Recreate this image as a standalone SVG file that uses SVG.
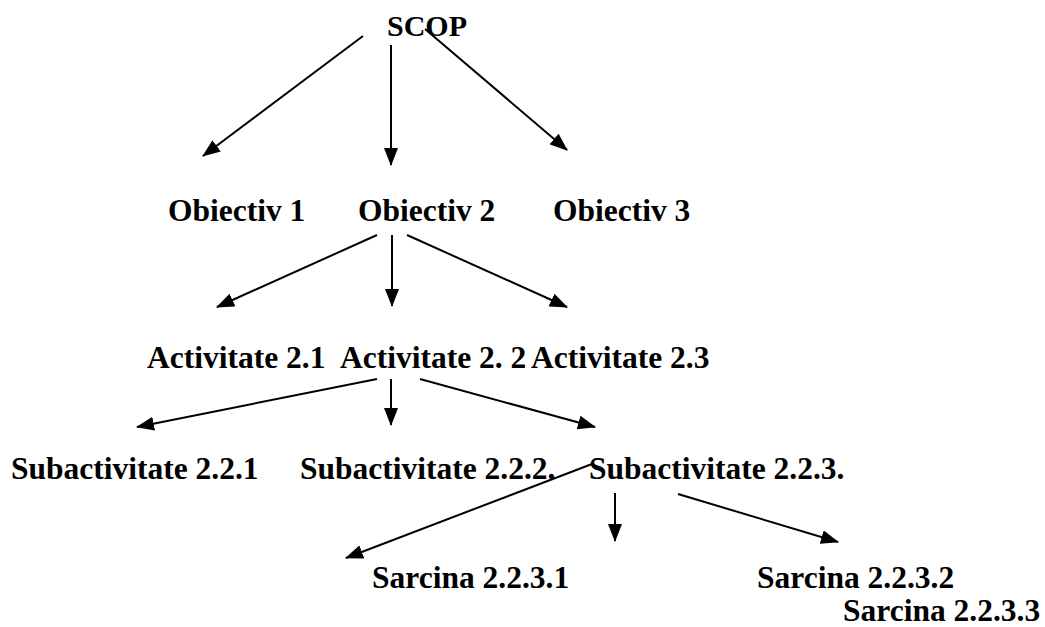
<svg xmlns="http://www.w3.org/2000/svg" width="1045" height="627" viewBox="0 0 1045 627">
<style>
text{font-family:"Liberation Serif","Times New Roman",serif;font-weight:bold;font-size:31.5px;fill:#000}
.c line{stroke:#000;stroke-width:2;marker-end:url(#ah)}
</style>
<defs>
<marker id="ah" markerUnits="userSpaceOnUse" markerWidth="18" markerHeight="14" viewBox="0 0 18 14" refX="17" refY="7" orient="auto">
<path d="M0,0 L18,7 L0,14 Z" fill="#000"/>
</marker>
</defs>
<rect width="1045" height="627" fill="#fff"/>
<g class="c" id="connectors">
<line x1="363" y1="36" x2="203" y2="156"/>
<line x1="391" y1="45" x2="391" y2="165"/>
<line x1="425" y1="29" x2="567" y2="150"/>
<line x1="377" y1="235" x2="217" y2="307"/>
<line x1="392" y1="235" x2="392" y2="306"/>
<line x1="407" y1="235" x2="567" y2="307"/>
<line x1="377" y1="379" x2="137" y2="427"/>
<line x1="391" y1="379" x2="391" y2="425"/>
<line x1="420" y1="379" x2="595" y2="427"/>
<line x1="592" y1="464" x2="346" y2="558"/>
<line x1="615" y1="493" x2="615" y2="541"/>
<line x1="678" y1="494" x2="838" y2="542"/>
</g>
<g id="scop"><text x="387" y="36" style="font-size:30px">SCOP</text></g>
<g id="ob1"><text x="168" y="221">Obiectiv 1</text></g>
<g id="ob2"><text x="358" y="221">Obiectiv 2</text></g>
<g id="ob3"><text x="553" y="221">Obiectiv 3</text></g>
<g id="act21"><text x="147" y="368">Activitate 2.1</text></g>
<g id="act22"><text x="340" y="368">Activitate 2. 2</text></g>
<g id="act23"><text x="531" y="368">Activitate 2.3</text></g>
<g id="sub221"><text x="11" y="479">Subactivitate 2.2.1</text></g>
<g id="sub222"><text x="300" y="479">Subactivitate 2.2.2.</text></g>
<g id="sub223"><text x="589" y="479">Subactivitate 2.2.3.</text></g>
<g id="s2231"><text x="372" y="588">Sarcina 2.2.3.1</text></g>
<g id="s2232"><text x="757" y="588">Sarcina 2.2.3.2</text></g>
<g id="s2233"><text x="843" y="621">Sarcina 2.2.3.3</text></g>
</svg>
